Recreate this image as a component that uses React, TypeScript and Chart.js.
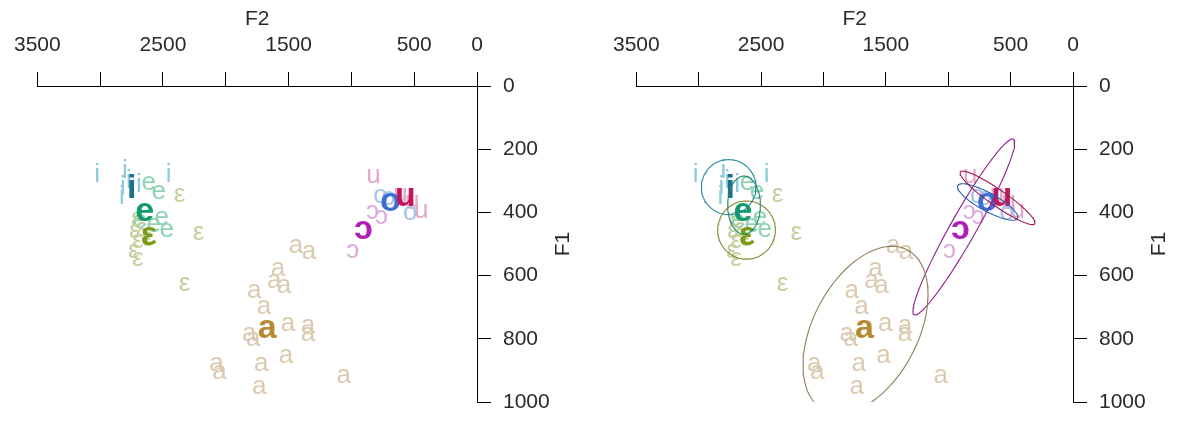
import React, { useEffect, useRef } from "react";
import { Chart, registerables } from "chart.js";

Chart.register(...registerables);

const AXIS_FONT = "'Liberation Sans', Arial, Helvetica, sans-serif";
const GLYPH_FONT = "'Liberation Sans', 'DejaVu Sans', Arial, sans-serif";

// ---------- data (F2, F1 in Hz) ----------
const vowels = ["i", "e", "ε", "a", "u", "o", "ɔ"];

const iF2 = [3025, 2803, 2819, 2827, 2692, 2455, 2772];
const iF1 = [282, 269, 320, 351, 313, 282, 301];

const eF2 = [2613, 2534, 2510, 2471, 2574, 2685];
const eF1 = [307, 335, 418, 456, 440, 427];

const epsF2 = [2368, 2217, 2328, 2708, 2724, 2700, 2732, 2700, 2669, 2621];
const epsF1 = [345, 465, 627, 421, 459, 491, 522, 547, 453, 484];

const aF2 = [1441, 1338, 1584, 1615, 1536, 1774, 1695, 1813, 1782, 1505, 1346, 1346, 2075, 2051, 1718, 1520, 1734, 1061];
const aF1 = [506, 525, 579, 617, 633, 649, 699, 785, 801, 753, 759, 785, 880, 905, 880, 854, 953, 918];

const uF2 = [824, 443, 610, 515];
const uF1 = [285, 396, 345, 367];

const oF2 = [768, 705, 531];
const oF1 = [348, 354, 402];

const openoF2 = [832, 760, 990];
const openoF1 = [399, 415, 522];

const tokenF2 = [iF2, eF2, epsF2, aF2, uF2, oF2, openoF2];
const tokenF1 = [iF1, eF1, epsF1, aF1, uF1, oF1, openoF1];

const meanF2 = [2748, 2645, 2613, 1671, 570, 689, 903];
const meanF1 = [326, 396, 472, 769, 351, 367, 453];

// ellipse: centre + two conjugate semi-axis vectors (data units)
const ellCF2 = [2760, 2637, 2617, 1663, 605, 684, 875];
const ellCF1 = [320, 377, 456, 772, 354, 367, 446];
const ellUF2 = [-219, 0, -231, -501, -298, -239, -398];
const ellUF1 = [0, 92, 0, -112, 82, 52, -278];
const ellVF2 = [0, -131, 0, 0, 37, 35, -90];
const ellVF1 = [87, 0, 92, 240, 21, 25, 20];

const tokenColors = ["#8ecbdd", "#8fd3b2", "#c4cf9e", "#dccab0", "#e3a9c8", "#a9c1e7", "#dcaadf"];
const meanColors = ["#1f6f8c", "#12996c", "#7c9a14", "#b48a33", "#c2185b", "#3b6fd4", "#b01fb5"];
const ellipseColors = ["#2a8a9e", "#1e8c6a", "#8a8a30", "#8f7d55", "#a5194f", "#3060b0", "#8e1f8e"];

const meanOrder = [0, 1, 2, 3, 5, 4, 6];

const xTickValues = [3500, 2500, 1500, 500, 0];
const yTickValues = [0, 200, 400, 600, 800, 1000];

// ---------- layout ----------
const W = 599;
const H = 428;
const AREA_TOP = 86;
const AREA_BOTTOM = 402;

function ellipsePoints(k: number) {
  const pts: { x: number; y: number }[] = [];
  const n = 96;
  for (let s = 0; s <= n; s++) {
    const t = (s / n) * Math.PI * 2;
    pts.push({
      x: ellCF2[k] + Math.cos(t) * ellUF2[k] + Math.sin(t) * ellVF2[k],
      y: ellCF1[k] + Math.cos(t) * ellUF1[k] + Math.sin(t) * ellVF1[k],
    });
  }
  return pts;
}

const glyphPlugin = {
  id: "glyphs",
  beforeDatasetsDraw(chart: any) {
    const ctx = chart.ctx;
    chart.data.datasets.forEach((ds: any, i: number) => {
      if (!ds.glyph) return;
      const meta = chart.getDatasetMeta(i);
      ctx.save();
      ctx.font = ds.glyphFont;
      ctx.fillStyle = ds.glyphColor;
      ctx.textAlign = "center";
      ctx.textBaseline = "middle";
      meta.data.forEach((el: any) => ctx.fillText(ds.glyph, el.x, el.y));
      ctx.restore();
    });
  },
  afterDraw(chart: any) {
    const ctx = chart.ctx;
    const a = chart.chartArea;
    ctx.save();
    ctx.translate(a.right + 86, (a.top + a.bottom) / 2);
    ctx.rotate(-Math.PI / 2);
    ctx.font = `21px ${AXIS_FONT}`;
    ctx.fillStyle = "#2a2a2a";
    ctx.textAlign = "center";
    ctx.textBaseline = "middle";
    ctx.fillText("F1", 0, 0);
    ctx.restore();
  },
};

function buildConfig(withEllipses: boolean, left: number, right: number): any {
  const datasets: any[] = [];
  for (let k = 0; k < vowels.length; k++) {
    datasets.push({
      data: tokenF2[k].map((v, j) => ({ x: v, y: tokenF1[k][j] })),
      glyph: vowels[k],
      glyphColor: tokenColors[k],
      glyphFont: `26px ${GLYPH_FONT}`,
      pointRadius: 0,
      pointHoverRadius: 0,
      showLine: false,
    });
  }
  for (const k of meanOrder) {
    datasets.push({
      data: [{ x: meanF2[k], y: meanF1[k] }],
      glyph: vowels[k],
      glyphColor: meanColors[k],
      glyphFont: `bold 34px ${GLYPH_FONT}`,
      pointRadius: 0,
      pointHoverRadius: 0,
      showLine: false,
    });
  }
  if (withEllipses) {
    for (let k = 0; k < vowels.length; k++) {
      datasets.push({
        data: ellipsePoints(k),
        showLine: true,
        fill: false,
        borderColor: ellipseColors[k],
        borderWidth: 1.1,
        pointRadius: 0,
        pointHoverRadius: 0,
        tension: 0,
      });
    }
  }
  const tickFont = { family: AXIS_FONT, size: 21 };
  return {
    type: "scatter",
    data: { datasets },
    plugins: [glyphPlugin],
    options: {
      animation: false,
      responsive: false,
      events: [],
      layout: { padding: { left, right: 0, top: 0, bottom: H - AREA_BOTTOM } },
      plugins: { legend: { display: false }, tooltip: { enabled: false } },
      scales: {
        x: {
          type: "linear",
          position: "top",
          reverse: true,
          min: 0,
          max: 3500,
          afterFit: (s: any) => {
            s.height = AREA_TOP;
          },
          ticks: {
            stepSize: 500,
            autoSkip: false,
            maxRotation: 0,
            padding: 14,
            font: tickFont,
            color: "#2a2a2a",
            callback: (v: number) => (xTickValues.includes(v) ? String(v) : ""),
          },
          grid: { drawOnChartArea: false, drawTicks: true, tickLength: 14, color: "#000", lineWidth: 1 },
          border: { display: true, color: "#000", width: 1 },
          title: {
            display: true,
            text: "F2",
            font: tickFont,
            color: "#2a2a2a",
            padding: { top: 7, bottom: 0 },
          },
        },
        y: {
          type: "linear",
          position: "right",
          reverse: true,
          min: 0,
          max: 1000,
          afterFit: (s: any) => {
            s.width = W - right;
          },
          ticks: {
            stepSize: 200,
            padding: 12,
            font: tickFont,
            color: "#2a2a2a",
            callback: (v: number) => (yTickValues.includes(v) ? String(v) : ""),
          },
          grid: { drawOnChartArea: false, drawTicks: true, tickLength: 14, color: "#000", lineWidth: 1 },
          border: { display: true, color: "#000", width: 1 },
        },
      },
    },
  };
}

function Panel({ withEllipses, left, right }: { withEllipses: boolean; left: number; right: number }) {
  const ref = useRef<HTMLCanvasElement | null>(null);
  useEffect(() => {
    if (!ref.current) return;
    const chart = new Chart(ref.current, buildConfig(withEllipses, left, right));
    return () => chart.destroy();
  }, [withEllipses, left, right]);
  return <canvas ref={ref} width={W} height={H} style={{ display: "block", width: W, height: H }} />;
}

export default function App() {
  return (
    <div
      style={{
        position: "absolute",
        left: 0,
        top: 0,
        width: 1198,
        height: 428,
        background: "#fff",
        display: "flex",
      }}
    >
      <Panel withEllipses={false} left={35} right={477} />
      <Panel withEllipses={true} left={34} right={474} />
    </div>
  );
}
